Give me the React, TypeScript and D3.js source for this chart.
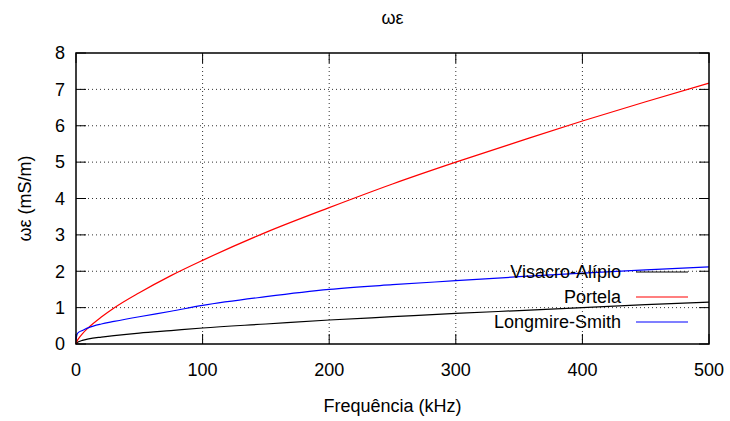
import * as d3 from 'd3';
import { useEffect, useRef } from 'react';

// frequencies (kHz) at which the curves were read
const freq = [0, 1, 2, 5, 10, 20, 30, 50, 75, 100, 150, 200, 250, 300, 350, 400, 450, 500];

const visacro = [0, 0.04, 0.06, 0.1, 0.14, 0.19, 0.23, 0.3, 0.37, 0.44, 0.55, 0.66, 0.75, 0.84, 0.92, 1.0, 1.08, 1.15];
const portela = [0, 0.09, 0.146, 0.279, 0.455, 0.74, 0.99, 1.41, 1.88, 2.3, 3.07, 3.75, 4.4, 5.0, 5.57, 6.13, 6.66, 7.17];
const longmire = [0.12, 0.28, 0.32, 0.37, 0.45, 0.55, 0.62, 0.75, 0.9, 1.06, 1.3, 1.5, 1.63, 1.74, 1.85, 1.95, 2.04, 2.12];

const seriesNames = ['Visacro-Alípio', 'Portela', 'Longmire-Smith'];
const seriesColors = ['#000000', '#ff0000', '#0000ff'];

const xTicks = [0, 100, 200, 300, 400, 500];
const yTicks = [0, 1, 2, 3, 4, 5, 6, 7, 8];

const W = 730;
const H = 421;
const M = { left: 76, right: 21, top: 53, bottom: 77 };

const Chart = () => {
  const svgRef = useRef(null);

  useEffect(() => {
    const svg = d3.select(svgRef.current);
    svg.selectAll('*').remove();

    const x = d3.scaleLinear().domain([0, 500]).range([M.left, W - M.right]);
    const y = d3.scaleLinear().domain([0, 8]).range([H - M.bottom, M.top]);
    const font = "'Liberation Sans', Arial, sans-serif";
    const fs = 18;

    // grid
    const grid = svg.append('g').attr('stroke', '#000').attr('stroke-width', 1)
      .attr('stroke-dasharray', '1,3').attr('opacity', 0.8);
    xTicks.slice(1, -1).forEach(t => {
      grid.append('line').attr('x1', x(t)).attr('x2', x(t))
        .attr('y1', y(0)).attr('y2', y(8));
    });
    yTicks.slice(1, -1).forEach(t => {
      grid.append('line').attr('x1', x(0)).attr('x2', x(500))
        .attr('y1', y(t)).attr('y2', y(t));
    });

    // ticks (inward, mirrored)
    const tk = svg.append('g').attr('stroke', '#000').attr('stroke-width', 1);
    const tl = 10;
    yTicks.forEach(t => {
      tk.append('line').attr('x1', x(0)).attr('x2', x(0) + tl).attr('y1', y(t)).attr('y2', y(t));
      tk.append('line').attr('x1', x(500)).attr('x2', x(500) - tl).attr('y1', y(t)).attr('y2', y(t));
    });
    xTicks.forEach(t => {
      tk.append('line').attr('x1', x(t)).attr('x2', x(t)).attr('y1', y(0)).attr('y2', y(0) - tl);
      tk.append('line').attr('x1', x(t)).attr('x2', x(t)).attr('y1', y(8)).attr('y2', y(8) + tl);
    });

    // tick labels
    svg.append('g').selectAll('text').data(yTicks).enter().append('text')
      .attr('x', x(0) - 11).attr('y', d => y(d)).attr('dy', '0.35em')
      .attr('text-anchor', 'end').attr('font-family', font).attr('font-size', fs)
      .text(d => d);
    svg.append('g').selectAll('text').data(xTicks).enter().append('text')
      .attr('x', d => x(d)).attr('y', y(0) + 32)
      .attr('text-anchor', 'middle').attr('font-family', font).attr('font-size', fs)
      .text(d => d);

    // curves
    const allSeries = [visacro, portela, longmire];
    const line = d3.line<number>()
      .x((_, i) => x(freq[i]))
      .y(d => y(d))
      .curve(d3.curveMonotoneX);
    allSeries.forEach((s, i) => {
      svg.append('path').datum(s).attr('d', line).attr('fill', 'none')
        .attr('stroke', seriesColors[i]).attr('stroke-width', 1.2);
    });

    // border
    svg.append('rect').attr('x', x(0)).attr('y', y(8))
      .attr('width', x(500) - x(0)).attr('height', y(0) - y(8))
      .attr('fill', 'none').attr('stroke', '#000').attr('stroke-width', 1.5);

    // legend
    const legY = [272, 297, 322];
    seriesNames.forEach((n, i) => {
      svg.append('text').attr('x', 621).attr('y', legY[i]).attr('dy', '0.35em')
        .attr('text-anchor', 'end').attr('font-family', font).attr('font-size', fs)
        .text(n);
      svg.append('line').attr('x1', 636).attr('x2', 688).attr('y1', legY[i]).attr('y2', legY[i])
        .attr('stroke', seriesColors[i]).attr('stroke-width', 1.2);
    });

    // titles
    svg.append('text').attr('x', (x(0) + x(500)) / 2).attr('y', 24).attr('text-anchor', 'middle')
      .attr('font-family', font).attr('font-size', fs).text('ωε');
    svg.append('text').attr('x', (x(0) + x(500)) / 2).attr('y', 412).attr('text-anchor', 'middle')
      .attr('font-family', font).attr('font-size', fs).text('Frequência (kHz)');
    svg.append('text').attr('transform', `translate(25, ${(y(0) + y(8)) / 2}) rotate(-90)`)
      .attr('text-anchor', 'middle').attr('dy', '0.35em').attr('font-family', font).attr('font-size', fs)
      .text('ωε (mS/m)');
  }, []);

  return <svg ref={svgRef} width={W} height={H} style={{ display: 'block' }}></svg>;
};

export default function App() {
  return (
    <div style={{ position: 'absolute', left: 0, top: 0, width: W, height: H, overflow: 'hidden' }}>
      <Chart />
    </div>
  );
}
